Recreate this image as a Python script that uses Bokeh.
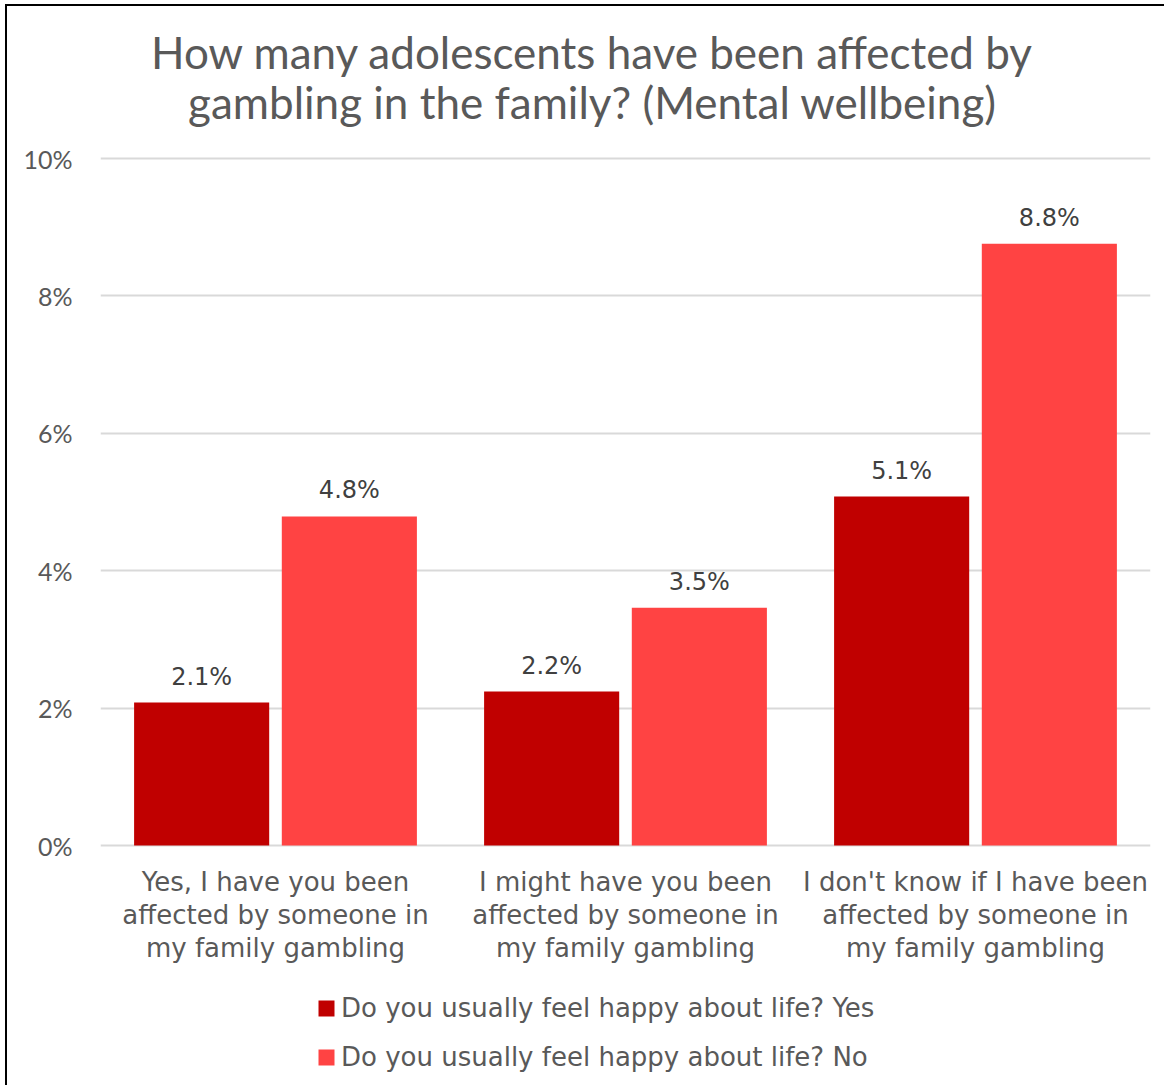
from bokeh.plotting import figure
from bokeh.models import Range1d, Label, Legend, LegendItem, ColumnDataSource, FixedTicker
from bokeh.core.properties import value
from bokeh.embed import file_html
from bokeh.resources import INLINE

categories = [
    ["Yes, I have you been", "affected by someone in", "my family gambling"],
    ["I might have you been", "affected by someone in", "my family gambling"],
    ["I don't know if I have been", "affected by someone in", "my family gambling"],
]
series_names = ["Do you usually feel happy about life? Yes", "Do you usually feel happy about life? No"]
happy_yes = [2.08, 2.24, 5.08]
happy_no = [4.79, 3.46, 8.76]
y_ticks = [0, 2, 4, 6, 8, 10]
title_lines = ["How many adolescents have been affected by", "gambling in the family? (Mental wellbeing)"]

DARK = "#C00000"
LIGHT = "#FF4343"
GREY = "#595959"
LABEL_FONT = "DejaVu Sans"

# page geometry (canvas pixels of the window)
OX, OY = 7, 6           # figure origin inside window (after border)
W, H = 1166, 1087
ZERO_Y, TOP_Y = 845, 158  # window y of 0% and 10%
PX_PER_UNIT = (ZERO_Y - TOP_Y) / 10.0
y_lo = -(H - ZERO_Y) / PX_PER_UNIT
y_hi = (ZERO_Y - OY) / PX_PER_UNIT

def sy(window_y):
    return H - window_y

p = figure(width=W - OX, height=H - OY, output_backend="svg", toolbar_location=None,
           x_range=Range1d(0, 3), y_range=Range1d(y_lo, y_hi),
           min_border_left=100 - OX, min_border_right=16, min_border_top=0, min_border_bottom=0)
p.margin = (4, 0, 0, 5)
p.styles = {"border-top": "2px solid black", "border-left": "2px solid black"}
p.title = None
p.outline_line_color = None
p.background_fill_color = "white"
p.border_fill_color = "white"

centers = [i + 0.5 for i in range(len(categories))]
off = 0.211
bw = 0.386
src_yes = ColumnDataSource(dict(x=[c - off for c in centers], top=happy_yes,
                                lbl=[f"{v:.1f}%" for v in happy_yes]))
src_no = ColumnDataSource(dict(x=[c + off for c in centers], top=happy_no,
                               lbl=[f"{v:.1f}%" for v in happy_no]))
r1 = p.vbar(x="x", top="top", width=bw, source=src_yes, fill_color=DARK, line_color=None)
r2 = p.vbar(x="x", top="top", width=bw, source=src_no, fill_color=LIGHT, line_color=None)

for s in (src_yes, src_no):
    p.text(x="x", y="top", text="lbl", source=s, text_align="center", text_baseline="bottom",
           y_offset=-12, text_font=value(LABEL_FONT), text_font_size="24px", text_color="#404040")

# axes
p.xaxis.visible = False
p.xgrid.visible = False
p.yaxis.ticker = FixedTicker(ticks=y_ticks)
p.yaxis.major_label_overrides = {t: f"{t}%" for t in y_ticks}
p.yaxis.axis_line_color = None
p.yaxis.major_tick_line_color = None
p.yaxis.minor_tick_line_color = None
p.yaxis.major_label_standoff = 22
p.yaxis.major_label_text_font = "Lato"
p.yaxis.major_label_text_font_size = "25px"
p.yaxis.major_label_text_color = GREY
p.ygrid.grid_line_color = "#D9D9D9"
p.ygrid.grid_line_width = 2
p.ygrid.level = "underlay"

# title
for i, t in enumerate(title_lines):
    p.add_layout(Label(x=492, y=sy(51 + 50 * i), x_units="screen", y_units="screen", text=t,
                       text_align="center", text_baseline="middle", text_font="Lato",
                       text_font_size="44px", text_color=GREY))

# category labels
for c, lines in zip(centers, categories):
    for j, line in enumerate(lines):
        p.add_layout(Label(x=c, y=sy(881 + 33 * j), x_units="data", y_units="screen", text=line,
                           text_align="center", text_baseline="middle", text_font=LABEL_FONT,
                           text_font_size="26px", text_color=GREY))

legend = Legend(items=[LegendItem(label=series_names[0], renderers=[r1]),
                       LegendItem(label=series_names[1], renderers=[r2])],
                location=(216, sy(1072)), orientation="vertical",
                glyph_width=20, glyph_height=20, label_standoff=5, spacing=19,
                label_text_font=LABEL_FONT, label_text_font_size="26px", label_text_color=GREY,
                label_height=30, padding=0, margin=0, border_line_color=None,
                background_fill_alpha=0)
p.add_layout(legend, "center")

open("out.html", "w").write(file_html(p, INLINE))
